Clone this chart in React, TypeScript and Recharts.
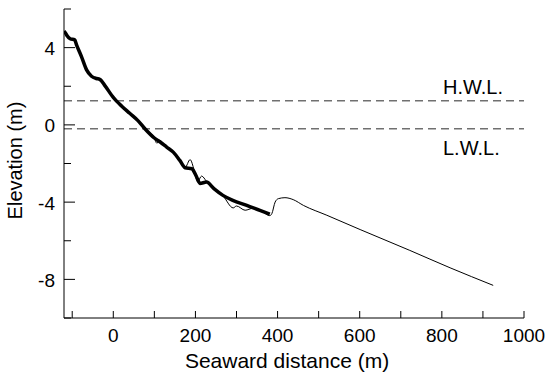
import React from 'react';
import { LineChart, Line, XAxis, YAxis, ReferenceLine } from 'recharts';

// thick line: measured beach profile
const profileX = [-120, -116, -112, -105, -94, -89, -77, -65, -53, -41, -33, -20, 0, 8, 20, 40, 60, 77, 100, 115, 130, 146, 162, 175, 191, 203, 211, 227, 245, 267, 291, 325, 357, 381];
const profileY = [4.85, 4.75, 4.6, 4.46, 4.4, 4.12, 3.51, 2.85, 2.52, 2.4, 2.36, 2.02, 1.42, 1.23, 0.98, 0.6, 0.22, -0.2, -0.68, -0.9, -1.15, -1.41, -1.84, -2.22, -2.27, -2.7, -3.03, -2.96, -3.3, -3.65, -3.91, -4.17, -4.43, -4.62];

// thin line: survey profile extending offshore
const surveyX = [-120, -116, -112, -105, -94, -89, -77, -65, -53, -41, -33, -20, 0, 8, 20, 40, 60, 77, 100, 106, 112, 130, 146, 162, 175, 187, 197, 205, 215, 227, 250, 267, 292, 300, 321, 340, 360, 381, 386, 394, 402, 418, 438, 463, 520, 601, 722, 820, 925];
const surveyY = [4.85, 4.75, 4.6, 4.46, 4.4, 4.12, 3.51, 2.85, 2.52, 2.4, 2.36, 2.02, 1.42, 1.23, 0.98, 0.6, 0.22, -0.2, -0.68, -0.95, -0.8, -1.15, -1.41, -1.84, -2.2, -1.8, -2.35, -2.95, -2.65, -2.92, -3.4, -3.68, -4.3, -4.2, -4.42, -4.32, -4.45, -4.7, -4.6, -4.0, -3.82, -3.77, -3.87, -4.17, -4.68, -5.42, -6.5, -7.4, -8.31];

const xTicks = [-100, 0, 100, 200, 300, 400, 500, 600, 700, 800, 900, 1000];
const yTicks = [-10, -8, -6, -4, -2, 0, 2, 4, 6];
const levelNames = ['H.W.L.', 'L.W.L.'];
const levelValues = [1.25, -0.2];

const profileData = profileX.map((x, i) => ({ x, y: profileY[i] }));
const surveyData = surveyX.map((x, i) => ({ x, y: surveyY[i] }));

const FONT = '"Liberation Sans", Arial, sans-serif';

const BottomTick = (props: any) => {
  const { x, y, payload } = props;
  const v = payload.value;
  return (
    <g>
      <line x1={x} x2={x} y1={y} y2={y - 7} stroke="#000" />
      {v % 200 === 0 && (
        <text x={x} y={y + 11} dy="0.71em" textAnchor="middle" fontSize={19} fontFamily={FONT} fill="#000">
          {v}
        </text>
      )}
    </g>
  );
};

const TopTick = (props: any) => {
  const { x, y } = props;
  return <line x1={x} x2={x} y1={y} y2={y + 6} stroke="#000" />;
};

const LeftTick = (props: any) => {
  const { x, y, payload } = props;
  const v = payload.value;
  const major = v % 4 === 0;
  return (
    <g>
      <line x1={x} x2={x + (major ? 11 : 7)} y1={y} y2={y} stroke="#000" />
      {major && (
        <text x={x - 9} y={y} dy="0.4em" textAnchor="end" fontSize={19} fontFamily={FONT} fill="#000">
          {v}
        </text>
      )}
    </g>
  );
};

const RightTick = (props: any) => {
  const { x, y, payload } = props;
  const major = payload.value % 4 === 0;
  return <line x1={x} x2={x - (major ? 11 : 7)} y1={y} y2={y} stroke="#000" />;
};

const levelLabel = (name: string, below: boolean) => (props: any) => {
  const vb = props.viewBox || {};
  return (
    <text
      x={vb.x + vb.width - 81}
      y={below ? vb.y + 26 : vb.y - 7}
      fontSize={20}
      fontFamily={FONT}
      fill="#000"
    >
      {name}
    </text>
  );
};

export default function App() {
  return (
    <div style={{ position: 'absolute', left: 0, top: 0, width: 548, height: 375, background: '#fff' }}>
      <LineChart width={548} height={375} margin={{ top: 9, right: 24, bottom: 0, left: 0 }}>
        <XAxis
          dataKey="x"
          type="number"
          domain={[-120, 1000]}
          ticks={xTicks}
          interval={0}
          allowDataOverflow
          height={57}
          tickSize={0}
          tickMargin={0}
          tickLine={false}
          tick={<BottomTick />}
          axisLine={{ stroke: '#000' }}
          label={{ value: 'Seaward distance (m)', position: 'insideBottom', offset: 7, dx: -7, fontSize: 21, fontFamily: FONT, fill: '#000' }}
        />
        <XAxis
          xAxisId="top"
          orientation="top"
          dataKey="x"
          type="number"
          domain={[-120, 1000]}
          ticks={xTicks}
          interval={0}
          allowDataOverflow
          height={0}
          tickSize={0}
          tickMargin={0}
          tickLine={false}
          tick={<TopTick />}
          axisLine={{ stroke: '#000' }}
        />
        <YAxis
          type="number"
          domain={[-10, 6]}
          ticks={yTicks}
          interval={0}
          width={64}
          tickSize={0}
          tickMargin={0}
          tickLine={false}
          tick={<LeftTick />}
          axisLine={{ stroke: '#000' }}
          label={{ value: 'Elevation (m)', angle: -90, position: 'insideLeft', offset: 15, dy: -3, fontSize: 20, fontFamily: FONT, fill: '#000', style: { textAnchor: 'middle' } }}
        />
        <YAxis
          yAxisId="right"
          orientation="right"
          type="number"
          domain={[-10, 6]}
          ticks={yTicks}
          interval={0}
          width={0}
          tickSize={0}
          tickMargin={0}
          tickLine={false}
          tick={<RightTick />}
          axisLine={{ stroke: '#000' }}
        />
        {levelValues.map((v, i) => (
          <ReferenceLine
            key={levelNames[i]}
            y={v}
            stroke="#707070"
            strokeWidth={1.3}
            strokeDasharray="8 5"
            label={levelLabel(levelNames[i], i === 1)}
          />
        ))}
        <Line
          data={surveyData}
          dataKey="y"
          type="monotone"
          stroke="#000"
          strokeWidth={1}
          dot={false}
          isAnimationActive={false}
        />
        <Line
          data={profileData}
          dataKey="y"
          type="monotone"
          stroke="#000"
          strokeWidth={3.5}
          strokeLinejoin="round"
          dot={false}
          isAnimationActive={false}
        />
      </LineChart>
    </div>
  );
}
